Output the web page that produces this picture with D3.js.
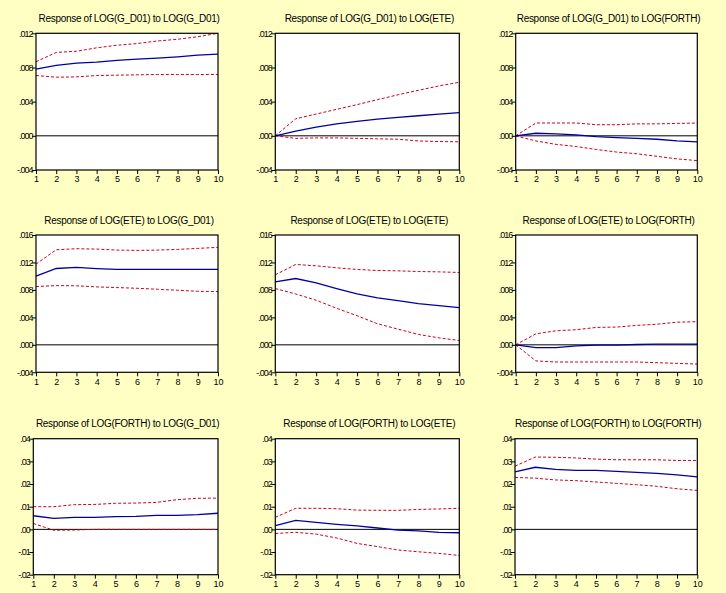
<!DOCTYPE html>
<html><head><meta charset="utf-8">
<script src="https://cdn.jsdelivr.net/npm/d3@7/dist/d3.min.js"></script>
<style>
body{margin:0;background:#FFFFC4;}
svg{display:block;}
text{font-family:"Liberation Sans",Arial,sans-serif;fill:#000;}
</style></head><body>
<svg id="c" width="726" height="593"></svg>
<script>
// ---- data ----
const periods = [1,2,3,4,5,6,7,8,9,10];
const titles = [
  "Response of LOG(G_D01) to LOG(G_D01)","Response of LOG(G_D01) to LOG(ETE)","Response of LOG(G_D01) to LOG(FORTH)",
  "Response of LOG(ETE) to LOG(G_D01)","Response of LOG(ETE) to LOG(ETE)","Response of LOG(ETE) to LOG(FORTH)",
  "Response of LOG(FORTH) to LOG(G_D01)","Response of LOG(FORTH) to LOG(ETE)","Response of LOG(FORTH) to LOG(FORTH)"
];
const yTicksRow1 = [-0.004,0.000,0.004,0.008,0.012];
const yTicksRow2 = [-0.004,0.000,0.004,0.008,0.012,0.016];
const yTicksRow3 = [-0.02,-0.01,0.00,0.01,0.02,0.03,0.04];
const yTickLabelsRow1 = ["-.004",".000",".004",".008",".012"];
const yTickLabelsRow2 = ["-.004",".000",".004",".008",".012",".016"];
const yTickLabelsRow3 = ["-.02","-.01",".00",".01",".02",".03",".04"];

const resp = [
  [.0078,.00824,.00851,.00863,.00882,.00898,.0091,.00925,.00945,.00957],
  [0,.00055,.00102,.00141,.00169,.00196,.00216,.00235,.00255,.00271],
  [0,.0003,.00024,.0001,-.0001,-.0002,-.0003,-.0004,-.0006,-.0007],
  [.0100,.01112,.01127,.0111,.01098,.01098,.01098,.01098,.01098,.01098],
  [.00917,.00966,.00902,.0082,.00741,.00683,.00644,.006,.00571,.00541],
  [0,-.0004,-.0004,-.00015,-.00005,-.00005,.00005,.0001,.0001,.0001],
  [.006,.00485,.0053,.0053,.0056,.0057,.0062,.0062,.0065,.0071],
  [.0016,.004,.0031,.0022,.0015,.0006,-.0003,-.0007,-.0013,-.0015],
  [.0254,.0274,.0265,.026,.026,.0256,.0251,.0247,.024,.0232]
];
const upper = [
  [.00867,.00976,.0099,.0103,.0106,.0108,.0111,.0113,.0116,.0120],
  [0,.002,.00255,.0031,.00365,.00424,.0048,.00533,.00584,.00627],
  [0,.0015,.0015,.0015,.0013,.0013,.0014,.0014,.00145,.0015],
  [.01176,.01385,.014,.01395,.0138,.01376,.0138,.0139,.01405,.0142],
  [.0102,.01171,.01151,.01122,.01098,.01083,.01078,.01068,.01063,.01054],
  [0,.0016,.00205,.0022,.00254,.00259,.00283,.003,.0033,.00337],
  [.01,.01,.0109,.011,.0115,.0116,.0119,.0131,.0137,.0138],
  [.0053,.0093,.0093,.0091,.0085,.0084,.0084,.0088,.009,.0093],
  [.0279,.0319,.0318,.0315,.031,.0307,.0307,.0307,.0304,.0304]
];
const lower = [
  [.00706,.00686,.0069,.00706,.0071,.00714,.00718,.00718,.00718,.00718],
  [0,-.0003,-.00024,-.00024,-.0003,-.00035,-.0004,-.0006,-.00067,-.0007],
  [0,-.0006,-.001,-.00125,-.0016,-.0019,-.0021,-.0024,-.0027,-.0029],
  [.00849,.00863,.0086,.00844,.00834,.00824,.0081,.00795,.0078,.00776],
  [.0082,.00741,.00649,.00532,.00424,.00307,.00229,.00151,.00102,.00063],
  [0,-.00234,-.0025,-.0025,-.0025,-.0025,-.0025,-.0026,-.0027,-.0028],
  [.0026,-.0004,-.0003,0,0,0,0,0,0,0],
  [-.0018,-.0013,-.0021,-.0038,-.0062,-.0076,-.0091,-.0099,-.0106,-.0115],
  [.0229,.0226,.0218,.0215,.0209,.0203,.0197,.019,.0179,.0172]
];

// ---- layout ----
const colX = [[36,218],[275.3,459.3],[515.7,697.3]];
const rowY = [[33.3,170],[235,372.3],[438.7,574.7]];
const titleY = [21.5,223.5,426.5];
const rowTicks = [yTicksRow1,yTicksRow2,yTicksRow3];
const rowTickLabels = [yTickLabelsRow1,yTickLabelsRow2,yTickLabelsRow3];

const svg = d3.select("#c");
svg.append("rect").attr("width",726).attr("height",593).attr("fill","#FFFFC4");

for (let i=0;i<9;i++){
  const r = Math.floor(i/3), c = i%3;
  let [x0,x1] = colX[c];
  if (r===2 && c===0) x0 = 33.3;
  if (r===2 && c===2) x0 = 515;
  const [y0,y1] = rowY[r];
  const ticks = rowTicks[r];
  const x = d3.scaleLinear().domain([1,10]).range([x0,x1]);
  const y = d3.scaleLinear().domain([ticks[0],ticks[ticks.length-1]]).range([y1,y0]);
  const g = svg.append("g");
  g.append("rect").attr("x",x0).attr("y",y0).attr("width",x1-x0).attr("height",y1-y0).attr("fill","#fff");
  g.append("line").attr("x1",x0).attr("x2",x1).attr("y1",y(0)).attr("y2",y(0)).attr("stroke","#000").attr("stroke-width",1);
  const line = d3.line().x((d,k)=>x(periods[k])).y(d=>y(d));
  g.append("path").datum(upper[i]).attr("d",line).attr("fill","none").attr("stroke","#CC0022").attr("stroke-width",1).attr("stroke-dasharray","3,2");
  g.append("path").datum(lower[i]).attr("d",line).attr("fill","none").attr("stroke","#CC0022").attr("stroke-width",1).attr("stroke-dasharray","3,2");
  g.append("path").datum(resp[i]).attr("d",line).attr("fill","none").attr("stroke","#0000A0").attr("stroke-width",1.3);
  g.append("rect").attr("x",x0).attr("y",y0).attr("width",x1-x0).attr("height",y1-y0).attr("fill","none").attr("stroke","#000").attr("stroke-width",1.2);
  const labels = rowTickLabels[r];
  const ya = d3.axisLeft(y).tickValues(ticks).tickSize(4).tickFormat((d,k)=>labels[k]);
  const yg = g.append("g").attr("transform",`translate(${x0},0)`).call(ya);
  const xa = d3.axisBottom(x).tickValues(periods).tickSize(4).tickFormat(d3.format("d"));
  const xg = g.append("g").attr("transform",`translate(0,${y1})`).call(xa);
  [yg,xg].forEach(a=>{
    a.select(".domain").remove();
    a.selectAll("line").attr("stroke","#000");
    a.selectAll("text").attr("font-family","Liberation Sans, Arial, sans-serif");
  });
  yg.selectAll("text").attr("x",-3.5).attr("font-size","9px").attr("letter-spacing","-1px");
  xg.selectAll("text").attr("y",6).attr("font-size","9px");
  g.append("text").attr("x",(x0+x1)/2+2).attr("y",titleY[r]).attr("text-anchor","middle")
    .attr("font-size","10px").attr("letter-spacing","-0.3px").text(titles[i]);
}
</script>
</body></html>
